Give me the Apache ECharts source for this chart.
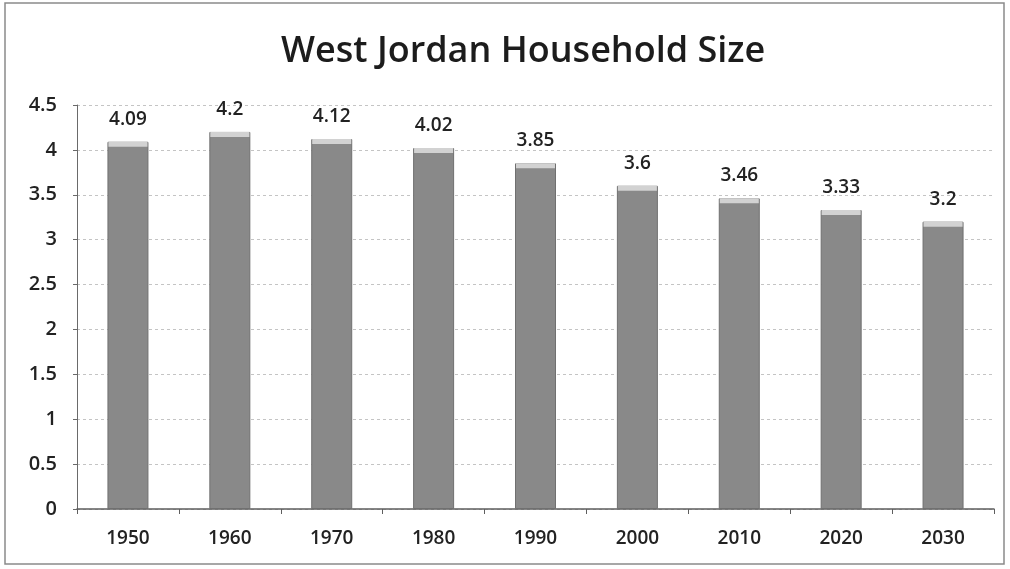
<!DOCTYPE html>
<html>
<head>
<meta charset="utf-8">
<script src="https://cdn.jsdelivr.net/npm/echarts@6/dist/echarts.min.js"></script>
<style>
  html, body { margin: 0; padding: 0; background: #fff; }
  #chart { width: 1010px; height: 569px; }
</style>
</head>
<body>
<div id="chart"></div>
<script>
// Average household size, West Jordan (persons per household)
const years = ['1950', '1960', '1970', '1980', '1990', '2000', '2010', '2020', '2030'];
const householdSize = [4.09, 4.2, 4.12, 4.02, 3.85, 3.6, 3.46, 3.33, 3.2];
const yTicks = { min: 0, max: 4.5, interval: 0.5 };

const FONT = '"Open Sans", "Noto Sans", sans-serif';
const chart = echarts.init(document.getElementById('chart'), null, { renderer: 'canvas' });

chart.setOption({
  backgroundColor: '#ffffff',
  animation: false,
  title: {
    text: 'West Jordan Household Size',
    left: 276,
    top: 29,
    textStyle: { fontFamily: FONT, fontSize: 36, fontWeight: 600, color: '#1c1c1c' }
  },
  graphic: [{
    type: 'rect',
    shape: { x: 5, y: 3, width: 999, height: 561 },
    style: { fill: 'none', stroke: '#8a8a8a', lineWidth: 1.5 },
    silent: true
  }],
  grid: { left: 77, right: 16, top: 105, bottom: 60, containLabel: false },
  xAxis: {
    type: 'category',
    data: years,
    axisLine: { lineStyle: { color: '#5e5e5e', width: 1.5 } },
    axisTick: { show: true, alignWithLabel: false, length: 5, lineStyle: { color: '#5e5e5e' } },
    axisLabel: { fontFamily: FONT, fontSize: 19, fontWeight: 600, color: '#222', margin: 20 }
  },
  yAxis: {
    type: 'value',
    min: yTicks.min,
    max: yTicks.max,
    interval: yTicks.interval,
    axisLine: { show: true, lineStyle: { color: '#6a6a6a', width: 1 } },
    axisTick: { show: true, length: 4, lineStyle: { color: '#6a6a6a' } },
    axisLabel: { fontFamily: FONT, fontSize: 20, fontWeight: 600, color: '#222', margin: 20 },
    splitLine: { show: true, lineStyle: { color: '#c4c4c4', type: [3, 3], width: 1 } }
  },
  series: [
    {
      type: 'bar',
      data: householdSize,
      barWidth: 41,
      itemStyle: { color: '#898989', borderColor: '#707070', borderWidth: 1 },
      label: {
        show: true,
        position: 'top',
        distance: 13,
        fontFamily: FONT,
        fontSize: 19,
        fontWeight: 600,
        color: '#222'
      },
      z: 2
    },
    {
      // lighter top face of each column
      type: 'pictorialBar',
      data: householdSize,
      symbol: 'rect',
      symbolSize: [39, 5],
      symbolPosition: 'end',
      symbolOffset: [0, 0],
      itemStyle: { color: '#d2d2d2' },
      silent: true,
      z: 3
    }
  ]
});
</script>
</body>
</html>
